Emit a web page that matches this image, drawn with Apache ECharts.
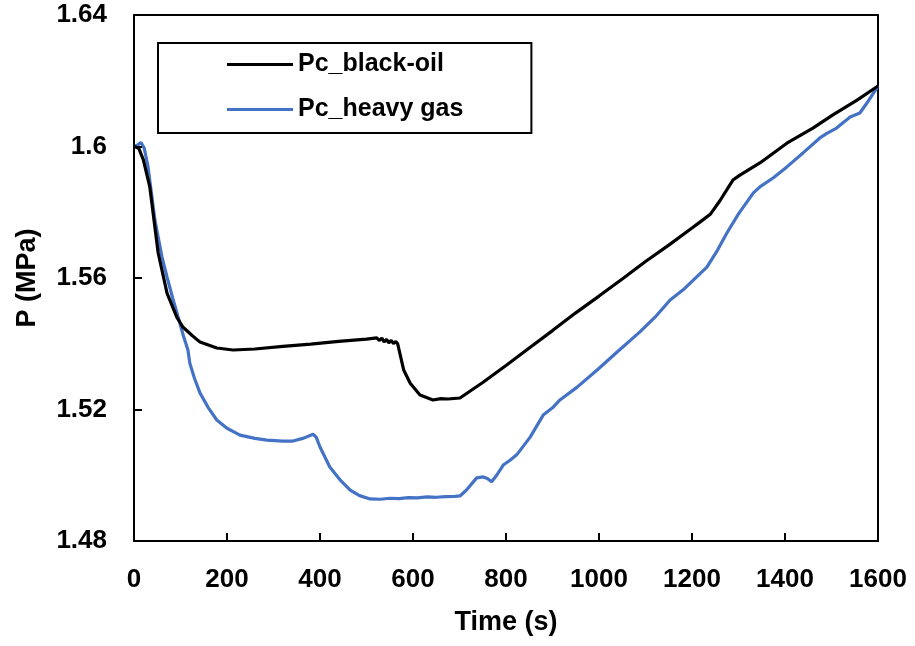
<!DOCTYPE html>
<html>
<head>
<meta charset="utf-8">
<script src="https://cdn.jsdelivr.net/npm/echarts@6/dist/echarts.min.js"></script>
<style>
  html, body { margin: 0; padding: 0; background: #fff; }
  #chart { width: 915px; height: 646px; }
</style>
</head>
<body>
<div id="chart"></div>
<script>
// Pressure history, black-oil case (time in s, pressure in MPa)
const blackOilTime = [0, 10, 20, 34, 52, 71, 92, 105, 125, 142, 178, 213, 260, 320, 380, 440, 500, 522, 528, 533, 538,
  543, 548, 553, 558, 563, 567, 580, 594, 615, 643, 660, 675, 701, 750, 800, 850, 900, 950, 1000, 1050, 1100, 1150,
  1200, 1217, 1240, 1260, 1288, 1303, 1346, 1404, 1460, 1503, 1555, 1600];
const blackOilP = [1.600, 1.5995, 1.596, 1.5877, 1.5676, 1.5554, 1.5481, 1.5451, 1.5425, 1.5405, 1.5387, 1.5381, 1.5384,
  1.5392, 1.5399, 1.5407, 1.5414, 1.5418, 1.5410, 1.5417, 1.5406, 1.5413, 1.5403, 1.5410, 1.5401, 1.5407, 1.5400,
  1.532, 1.528, 1.5244, 1.5229, 1.5233, 1.5232, 1.5235, 1.5282, 1.5334, 1.5387, 1.5440, 1.5494, 1.5545, 1.5597,
  1.5650, 1.5700, 1.5752, 1.5770, 1.5795, 1.5835, 1.5898, 1.5913, 1.5950, 1.6010, 1.6056, 1.6096, 1.6141, 1.6184];

// Pressure history, heavy-gas case
const heavyGasTime = [0, 8, 15, 22, 30, 45, 60, 71, 83, 95, 106, 116, 120, 130, 142, 160, 178, 200, 228, 260, 286, 320,
  342, 365, 385, 392, 400, 421, 443, 465, 485, 508, 530, 550, 570, 590, 610, 630, 650, 670, 690, 701, 715, 737, 751,
  760, 769, 780, 794, 808, 823, 852, 880, 900, 916, 953, 996, 1039, 1088, 1120, 1153, 1181, 1200, 1232, 1255, 1275,
  1300, 1332, 1346, 1375, 1404, 1440, 1475, 1490, 1511, 1530, 1540, 1561, 1580, 1600];
const heavyGasP = [1.600, 1.6005, 1.6012, 1.5995, 1.594, 1.5776, 1.5665, 1.5603, 1.554, 1.5481, 1.5425, 1.5381, 1.5341,
  1.5295, 1.525, 1.5205, 1.5168, 1.5143, 1.5122, 1.5112, 1.5107, 1.5104, 1.5104, 1.5113, 1.5125, 1.5115, 1.5086,
  1.5025, 1.4986, 1.4955, 1.4938, 1.4928, 1.4927, 1.4930, 1.4929, 1.4932, 1.4931, 1.4934, 1.4933, 1.4935, 1.4936,
  1.4937, 1.4955, 1.4992, 1.4995, 1.4990, 1.4980, 1.5000, 1.5031, 1.5045, 1.5062, 1.5116, 1.5183, 1.5205, 1.5229,
  1.5268, 1.5320, 1.5375, 1.5436, 1.5480, 1.5533, 1.5564, 1.5590, 1.5633, 1.5685, 1.5737, 1.5795, 1.5859, 1.5877,
  1.5905, 1.5938, 1.5982, 1.6026, 1.6040, 1.6056, 1.6078, 1.6090, 1.6102, 1.6140, 1.6184];

const seriesNames = ['Pc_black-oil', 'Pc_heavy gas'];
const seriesColors = ['#000000', '#4472C4'];

const xRange = { min: 0, max: 1600, interval: 200 };
const yRange = { min: 1.48, max: 1.64, interval: 0.04 };

const pairs = (xs, ys) => xs.map((x, i) => [x, ys[i]]);

const FONT = '"Liberation Sans", Arial, sans-serif';
const chart = echarts.init(document.getElementById('chart'), null, { renderer: 'canvas' });

const blackLine = { show: true, onZero: false, lineStyle: { color: '#000', width: 2 } };
// Ticks point into the plot area
const innerTick = { show: true, inside: true, length: 8, lineStyle: { color: '#000', width: 2 } };
// Frame-only axes: close the plot box on the top and right sides
const frameAxis = (extra) => Object.assign({
  type: 'value',
  axisLine: blackLine,
  axisTick: { show: false },
  axisLabel: { show: false },
  splitLine: { show: false }
}, extra);

chart.setOption({
  animation: false,
  backgroundColor: '#ffffff',
  grid: { left: 134, right: 37, top: 15, bottom: 105, show: false },
  legend: {
    left: 158, top: 43,
    orient: 'vertical',
    icon: 'rect',
    itemWidth: 66, itemHeight: 3,
    itemGap: 20,
    padding: [9, 68, 11, 69],
    borderColor: '#000', borderWidth: 2,
    textStyle: { fontFamily: FONT, fontWeight: 'bold', fontSize: 25, lineHeight: 25, color: '#000', padding: [0, 0, 0, 0] },
    data: seriesNames
  },
  xAxis: [
    Object.assign({
      type: 'value',
      position: 'bottom',
      z: 5,
      name: 'Time (s)',
      nameLocation: 'middle',
      nameGap: 68,
      nameTextStyle: { fontFamily: FONT, fontWeight: 'bold', fontSize: 27, color: '#000' },
      axisLine: blackLine,
      axisTick: innerTick,
      axisLabel: {
        fontFamily: FONT, fontWeight: 'bold', fontSize: 26, color: '#000', margin: 26,
        formatter: v => String(v)
      },
      splitLine: { show: false }
    }, xRange),
    frameAxis(Object.assign({ position: 'top' }, xRange))
  ],
  yAxis: [
    Object.assign({
      type: 'value',
      position: 'left',
      z: 5,
      name: 'P (MPa)',
      nameLocation: 'middle',
      nameGap: 93,
      nameTextStyle: { fontFamily: FONT, fontWeight: 'bold', fontSize: 27, color: '#000' },
      axisLine: blackLine,
      axisTick: innerTick,
      axisLabel: {
        fontFamily: FONT, fontWeight: 'bold', fontSize: 26, color: '#000', margin: 27,
        formatter: v => String(Number(v.toFixed(2)))
      },
      splitLine: { show: false }
    }, yRange),
    frameAxis(Object.assign({ position: 'right' }, yRange))
  ],
  series: [
    {
      name: seriesNames[0], type: 'line', showSymbol: false, symbol: 'none',
      color: seriesColors[0],
      lineStyle: { color: seriesColors[0], width: 3.2 },
      data: pairs(blackOilTime, blackOilP), z: 3
    },
    {
      name: seriesNames[1], type: 'line', showSymbol: false, symbol: 'none',
      color: seriesColors[1],
      lineStyle: { color: seriesColors[1], width: 3.2 },
      data: pairs(heavyGasTime, heavyGasP), z: 2
    }
  ]
});
</script>
</body>
</html>
